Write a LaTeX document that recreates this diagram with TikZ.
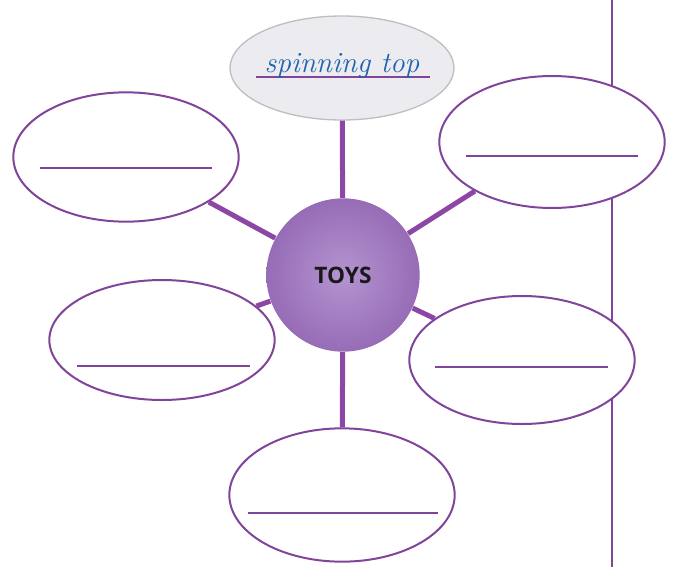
\documentclass[tikz,border=0pt]{standalone}
\usepackage{fontspec}
\setsansfont{Open Sans}
\usetikzlibrary{shapes.geometric}

\definecolor{plum}{RGB}{128,68,154}
\definecolor{spokeplum}{RGB}{140,70,165}
\definecolor{lilac}{RGB}{180,148,208}
\definecolor{deeplilac}{RGB}{150,108,182}
\definecolor{mist}{RGB}{236,236,240}
\definecolor{inkblue}{RGB}{30,100,172}

\tikzset{every picture/.style={line width=0.75pt}}
\tikzset{
  bubble/.style={ellipse, draw=plum, line width=1.5pt, fill=white, minimum width=169pt, minimum height=97pt, inner sep=0pt},
  spoke/.style={draw=spokeplum, line width=3.75pt},
  blank/.style={draw=plum, line width=1pt}
}

\begin{document}
\begin{tikzpicture}[x=0.75pt,y=0.75pt,yscale=-1,xscale=1]
\useasboundingbox (0,0) rectangle (673,567);
%Straight Lines (page margin)
\draw [color=plum, line width=1.5pt] (612,0) -- (612,567) ;
% Hub
\node [circle, minimum size=115pt, inner sep=0pt, inner color=lilac, outer color=deeplilac] (toys) at (343,275) {};
% Bubbles
\node [ellipse, draw=black!25, line width=1pt, fill=mist, minimum width=168pt, minimum height=78pt, inner sep=0pt] (top) at (342,68) {};
\node [bubble] (topleft) at (126,157) {};
\node [bubble, minimum height=99pt] (topright) at (552,142) {};
\node [bubble, minimum height=90pt] (midleft) at (162,340) {};
\node [bubble, minimum height=96pt] (midright) at (522,360) {};
\node [bubble, minimum height=100pt] (bottom) at (342,495) {};
%Spokes
\draw [spoke] (toys) -- (top) ;
\draw [spoke] (toys) -- (topleft) ;
\draw [spoke] (toys) -- (topright) ;
\draw [spoke] (toys) -- (midleft) ;
\draw [spoke] (toys) -- (midright) ;
\draw [spoke] (toys) -- (bottom) ;
%Blank lines
\draw [blank] (256,77) -- (430,77) ;
\draw [blank] (40,168) -- (212,168) ;
\draw [blank] (466,156) -- (638,156) ;
\draw [blank] (77,366) -- (250,366) ;
\draw [blank] (435,367) -- (608,367) ;
\draw [blank] (248,513) -- (438,513) ;
% Text Node
\node [text=black!90, font=\sffamily\fontsize{17}{20}\selectfont\bfseries] (toyslabel) at (toys.center) {TOYS};
% Text Node
\node [anchor=base, text=inkblue, font=\itshape\fontsize{22}{24}\selectfont, inner sep=0.75pt] (answer) at (342,72) {spinning top};
\end{tikzpicture}
\end{document}
